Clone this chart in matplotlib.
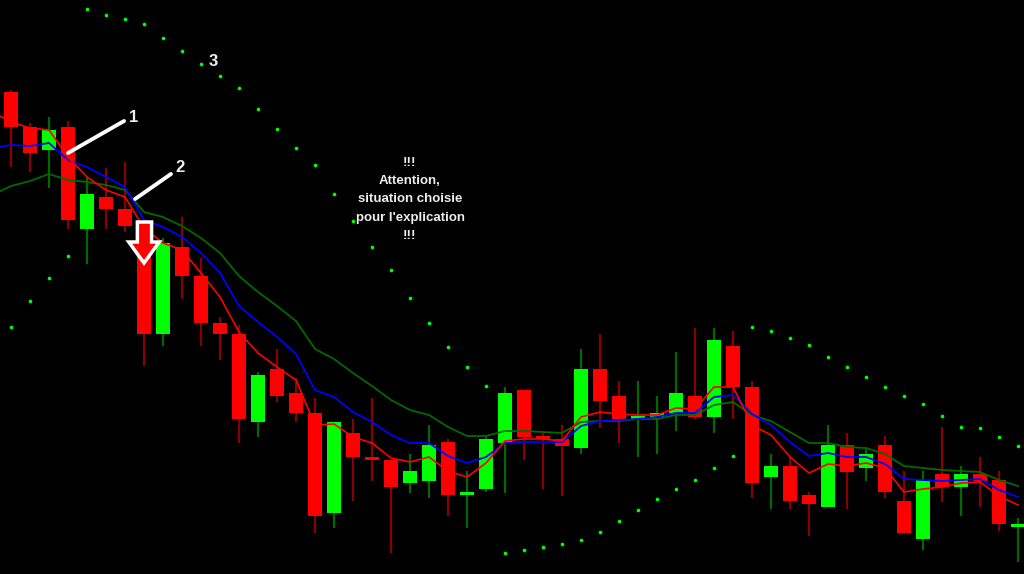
import numpy as np
import matplotlib
matplotlib.use('Agg')
import matplotlib.pyplot as plt
from matplotlib.patches import Rectangle, Polygon

# === DATA (levels, screen rows: smaller = higher price) ===
opens  = [92, 127, 150, 127, 229, 197, 209, 223, 334, 247, 276, 323, 334, 422, 369, 393, 413, 513,
          433, 457, 460, 483, 481, 442, 495, 489, 443, 390, 436, 439, 448, 369, 396, 419, 417, 413,
          396, 417, 346, 387, 477, 466, 495, 507, 445, 468, 445, 501, 539, 474, 487, 474, 480, 527]
highs  = [90, 123, 117, 121, 177, 168, 162, 223, 238, 217, 258, 317, 325, 372, 349, 378, 398, 422,
          419, 398, 460, 454, 425, 439, 471, 437, 387, 390, 433, 425, 349, 334, 381, 381, 396, 352,
          328, 328, 331, 381, 454, 457, 492, 425, 433, 448, 436, 471, 471, 427, 466, 457, 471, 518]
lows   = [167, 172, 188, 229, 264, 229, 232, 366, 346, 299, 346, 360, 443, 437, 402, 422, 533, 528,
          501, 481, 553, 493, 498, 516, 528, 492, 493, 460, 489, 496, 454, 428, 443, 457, 454, 431,
          419, 433, 419, 498, 509, 509, 536, 507, 509, 481, 498, 533, 550, 502, 516, 507, 531, 562]
closes = [127, 153, 130, 220, 194, 209, 226, 334, 243, 276, 323, 334, 419, 375, 396, 413, 516, 422,
          457, 460, 487, 471, 445, 495, 492, 439, 393, 437, 439, 446, 369, 401, 419, 416, 413, 393,
          417, 340, 387, 483, 466, 501, 504, 445, 472, 454, 492, 533, 480, 487, 474, 481, 524, 524]

# moving averages, first value belongs to the candle just off the left edge
ma_fast = [112, 122, 128, 130, 157, 177, 190, 197, 228, 243, 250, 273, 297, 332, 353, 367, 380, 425,
           424, 437, 443, 458, 462, 457, 471, 477, 463, 441, 439, 439, 441, 417, 412, 414, 415, 415,
           408, 409, 387, 387, 425, 435, 457, 473, 464, 466, 463, 468, 492, 489, 487, 483, 482, 496, 505]
ma_mid  = [148, 145, 146, 143, 160, 167, 177, 187, 220, 227, 237, 253, 273, 306, 322, 337, 354, 390,
           397, 412, 422, 435, 443, 443, 456, 463, 457, 443, 442, 442, 442, 426, 421, 420, 419, 417,
           413, 413, 397, 395, 414, 425, 442, 456, 453, 457, 457, 464, 479, 480, 481, 480, 479, 490, 497]
ma_slow = [195, 186, 181, 174, 180, 182, 185, 190, 212, 217, 226, 238, 253, 276, 292, 306, 321, 349,
           359, 373, 386, 400, 410, 415, 427, 436, 436, 431, 431, 432, 433, 422, 421, 421, 419, 419,
           415, 415, 405, 402, 415, 421, 432, 443, 443, 447, 448, 454, 466, 468, 470, 471, 472, 480, 486]

sar = [327, 301, 278, 256, 9, 15, 19, 24, 38, 51, 64, 76, 88, 109, 129, 148, 165, 194, 221, 247,
       270, 298, 323, 347, 367, 386, 553, 550, 547, 544, 540, 532, 521, 510, 499, 489, 480, 468,
       456, 327, 331, 338, 345, 357, 367, 377, 387, 396, 404, 416, 427, 428, 437, 446]

note_text = "!!!\nAttention,\nsituation choisie\npour l'explication\n!!!"

# === PLOT ===
fig = plt.figure(figsize=(10.24, 5.74), dpi=100, facecolor='black')
ax = fig.add_axes([0, 0, 1, 1])
ax.set_facecolor('black')

n = len(opens)
x = np.arange(n)
body_w = 0.74

for i in x:
    o, h, l, c = opens[i], highs[i], lows[i], closes[i]
    up = c < o
    wick_col = '#006a00' if up else '#880000'
    body_col = '#00ff00' if up else '#ff0000'
    ax.plot([i, i], [h, l], color=wick_col, lw=1.6, zorder=2, solid_capstyle='butt')
    top, bot = min(o, c), max(o, c)
    ax.add_patch(Rectangle((i - body_w / 2, top), body_w, max(bot - top, 2.5),
                           facecolor=body_col, edgecolor='none', zorder=3))

xm = np.arange(-1, n)
ax.plot(xm, ma_slow, color='#006a00', lw=1.3, zorder=4)
ax.plot(xm, ma_mid, color='#0000ff', lw=1.3, zorder=5)
ax.plot(xm, ma_fast, color='#ff0000', lw=1.2, zorder=6)

ax.scatter(x, sar, s=7, color='#00ff00', zorder=6, linewidths=0)

# annotation lines and numbers
ax.plot([3, 5.95], [153, 121], color='white', lw=2.8, solid_capstyle='round', zorder=8)
ax.plot([6.53, 8.42], [199, 174], color='white', lw=2.8, solid_capstyle='round', zorder=8)
lab = dict(color='#f0f0f0', fontsize=12, fontweight='bold', family='Liberation Sans',
           va='center', ha='center', zorder=9)
ax.text(6.45, 117, '1', **lab)
ax.text(8.9, 168, '2', **lab)
ax.text(10.65, 62, '3', **lab)

# entry arrow on candle 7
ax.add_patch(Polygon([(6.65, 222), (7.4, 222), (7.4, 242), (7.8, 242), (7.0, 263),
                      (6.2, 242), (6.65, 242)], closed=True,
                     facecolor='#ff0000', edgecolor='white', lw=2.5, zorder=9))

ax.text(21.0, 199.5, note_text, color='#eeeeee', fontsize=9.5, fontweight='bold',
        family='Liberation Sans', ha='center', va='center', linespacing=1.68, zorder=9)

ax.set_xlim(-11 / 19, (1024 - 11) / 19)
ax.set_ylim(574, 0)
ax.axis('off')

plt.savefig('out.png', dpi=100, facecolor='black')
